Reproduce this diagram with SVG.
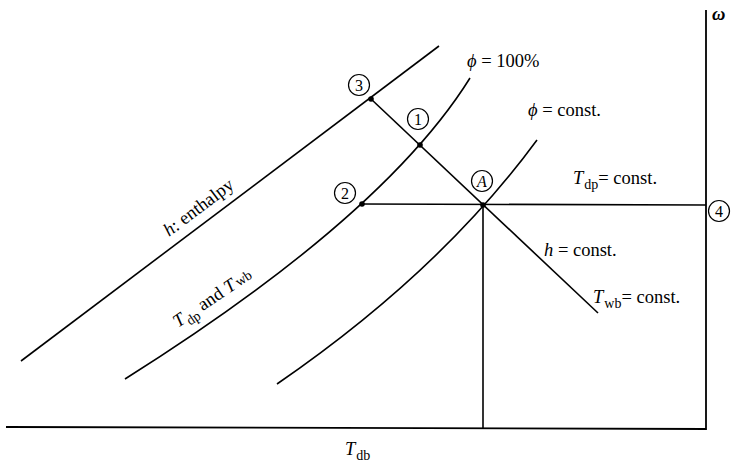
<svg xmlns="http://www.w3.org/2000/svg" width="732" height="463" viewBox="0 0 732 463">
<style>
.ln{fill:none;stroke:#000;stroke-width:1.6;stroke-linecap:butt}
.ax{fill:none;stroke:#000;stroke-width:1.8}
.t{font-family:"Liberation Serif","DejaVu Serif",serif;font-size:18.5px;fill:#000}
.i{font-style:italic}
.s{font-size:14px}
.c{fill:#fff;stroke:#000;stroke-width:1.2}
.n{font-family:"Liberation Serif","DejaVu Serif",serif;font-size:16px;fill:#000;text-anchor:middle}
.d{fill:#000}
</style>
<rect width="732" height="463" fill="#fff"/>
<g id="connectors">
  <path class="ax" d="M6,427 L706,429 L706,10"/>
  <path class="ln" d="M21,361 L439,46"/>
  <path class="ln" d="M125,379 Q384,216 470,78"/>
  <path class="ln" d="M277,384 Q440,272 537,140"/>
  <path class="ln" d="M371,99 L598,313"/>
  <path class="ln" d="M362,204 L706,205"/>
  <path class="ln" d="M483,205 L483,428"/>
</g>
<g id="labels">
  <text class="t" x="467" y="67"><tspan class="i">ϕ</tspan> = 100%</text>
  <text class="t" x="528" y="116"><tspan class="i">ϕ</tspan> = const.</text>
  <text class="t" x="573" y="184"><tspan class="i">T</tspan><tspan class="s" dx="1" dy="5">dp</tspan><tspan dy="-5">= const.</tspan></text>
  <text class="t" x="544" y="256"><tspan class="i">h</tspan> = const.</text>
  <text class="t" x="593" y="303"><tspan class="i">T</tspan><tspan class="s" dx="1" dy="5">wb</tspan><tspan dy="-5">= const.</tspan></text>
  <text class="t" x="345" y="455"><tspan class="i">T</tspan><tspan class="s" dx="1" dy="5">db</tspan></text>
  <text class="t i" x="712" y="20" font-weight="bold">ω</text>
  <text class="t" transform="translate(169,237) rotate(-37)" font-size="16.5"><tspan class="i">h</tspan>: enthalpy</text>
  <text class="t" transform="translate(178,328) rotate(-34)"><tspan class="i">T</tspan><tspan class="s" dx="1" dy="5">dp</tspan><tspan dy="-5"> and </tspan><tspan class="i">T</tspan><tspan class="s" dx="2" dy="0">wb</tspan></text>
</g>
<g id="node3"><circle class="c" cx="359" cy="85" r="10.5"/><text class="n" x="359" y="90.5">3</text><circle class="d" cx="371" cy="99" r="2.8"/></g>
<g id="node1"><circle class="c" cx="418" cy="119" r="10.5"/><text class="n" x="418" y="124.5">1</text><circle class="d" cx="420" cy="145" r="2.8"/></g>
<g id="node2"><circle class="c" cx="345" cy="193" r="10.5"/><text class="n" x="345" y="198.5">2</text><circle class="d" cx="362" cy="204" r="2.8"/></g>
<g id="nodeA"><circle class="c" cx="482" cy="181" r="10.5"/><text class="n i" x="482" y="186.5">A</text><circle class="d" cx="483" cy="205" r="2.8"/></g>
<g id="node4"><circle class="c" cx="719" cy="211" r="10.5"/><text class="n" x="719" y="216.5">4</text></g>
</svg>
